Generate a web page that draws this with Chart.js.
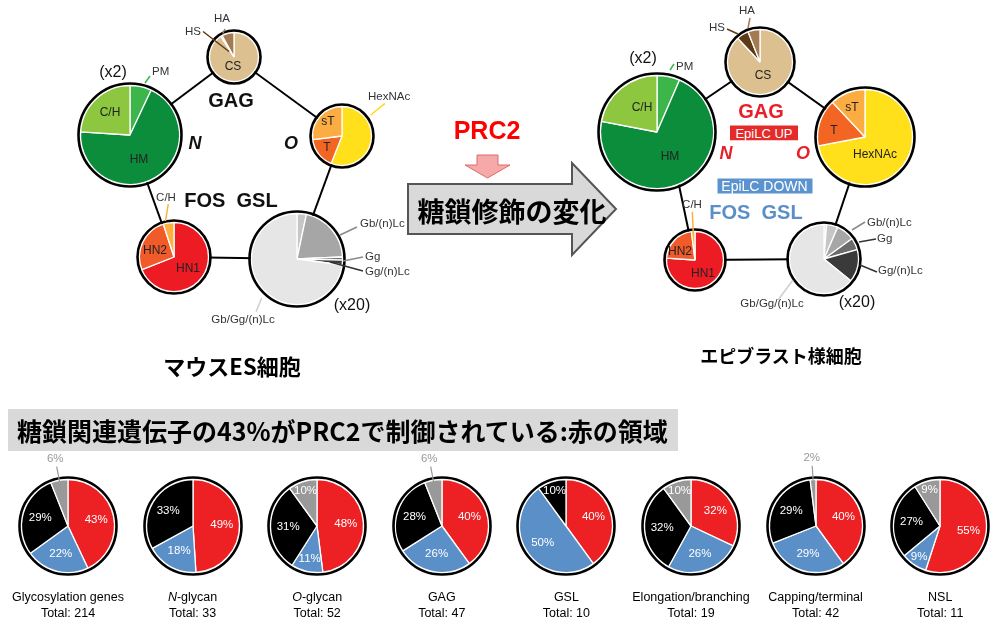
<!DOCTYPE html>
<html><head><meta charset="utf-8">
<script src="https://cdn.jsdelivr.net/npm/chart.js@4.4.1/dist/chart.umd.min.js"></script>
<style>
html,body{margin:0;padding:0;background:#fff;}
#stage{position:relative;width:1000px;height:632px;overflow:hidden;font-family:'Liberation Sans',Arial,sans-serif;color:#222;}
.t{position:absolute;white-space:nowrap;transform:translate(-50%,-50%);line-height:1;}
.l{position:absolute;white-space:nowrap;transform:translate(0,-50%);line-height:1;}
.jp{font-family:'Noto Sans CJK JP','Noto Sans CJK SC',sans-serif;font-weight:bold;color:#000;}
svg{position:absolute;left:0;top:0;}
canvas{position:absolute;}
</style></head><body><div id="stage">
<svg id="back" width="1000" height="632"></svg>
</div>
<script>
// ---------------- data ----------------
// top diagrams: ES cells (left) vs epiblast-like cells (right), shares in %
const gagParts = ['CS', 'HS', 'HA'];
const gagES = [91, 1, 8];
const gagEpi = [88, 6, 6];
const nParts = ['PM', 'HM', 'C/H'];
const nES = [7, 69, 24];
const nEpi = [6.5, 71.5, 22];
const oParts = ['HexNAc', 'T', 'sT'];
const oES = [56, 17, 27];
const oEpi = [72, 16, 12];
const fosParts = ['HN1', 'HN2', 'C/H'];
const fosES = [69, 26, 5];
const fosEpi = [76, 22, 2];
const gslParts = ['Gb/(n)Lc a', 'Gb/(n)Lc b', 'Gb/(n)Lc', 'Gg', 'Gg/(n)Lc', 'Gb/Gg/(n)Lc'];
const gslES = [0, 3.3, 21, 1.1, 1.7, 72.9];
const gslEpi = [1.2, 5.3, 8.5, 5.6, 15.3, 64.1];

// bottom pies
const categories = ['Glycosylation genes', 'N-glycan', 'O-glycan', 'GAG', 'GSL', 'Elongation/branching', 'Capping/terminal', 'NSL'];
const totals = [214, 33, 52, 47, 10, 19, 42, 11];
const redPct = [43, 49, 48, 40, 40, 32, 40, 55];
const bluePct = [22, 18, 11, 26, 50, 26, 29, 9];
const blackPct = [29, 33, 31, 28, 10, 32, 29, 27];
const grayPct = [6, 0, 10, 6, 0, 10, 2, 9];

// ---------------- styles ----------------
const gagColors = ['#dcc08f', '#5e3a17', '#a47a52'];
const nColors = ['#3cb54a', '#0b8d3c', '#8dc63f'];
const oColors = ['#ffe01b', '#f26522', '#fbad42'];
const fosColors = ['#ed1c24', '#f15a29', '#fbb040'];
const gslColors = ['#dedede', '#c6c6c6', '#a6a6a6', '#6b6b6b', '#3a3a3a', '#e6e6e6'];
const bottomColors = ['#ed2024', '#5b8fc8', '#000000', '#999999'];

const stage = document.getElementById('stage');
const NS = 'http://www.w3.org/2000/svg';

const ringPlugin = {
  id: 'ring',
  afterDatasetsDraw(chart, args, opts) {
    const a = chart.getDatasetMeta(0).data[0];
    if (!a) return;
    const ctx = chart.ctx;
    ctx.save();
    ctx.beginPath();
    ctx.arc(a.x, a.y, a.outerRadius + 0.7 + opts.width / 2, 0, Math.PI * 2);
    ctx.lineWidth = opts.width;
    ctx.strokeStyle = '#000';
    ctx.stroke();
    ctx.restore();
  }
};

const pctPlugin = {
  id: 'pct',
  afterDatasetsDraw(chart, args, opts) {
    if (!opts.on) return;
    const meta = chart.getDatasetMeta(0);
    const vals = chart.data.datasets[0].data;
    const ctx = chart.ctx;
    ctx.save();
    ctx.font = '11.5px "Liberation Sans", Arial, sans-serif';
    ctx.textAlign = 'center';
    ctx.textBaseline = 'middle';
    meta.data.forEach((arc, i) => {
      const v = vals[i];
      if (!v) return;
      const mid = (arc.startAngle + arc.endAngle) / 2;
      const R = arc.outerRadius;
      const cx = Math.cos(mid), sy = Math.sin(mid);
      if (v >= 8) {
        const f = v <= 10 ? 0.8 : (v <= 12 ? 0.72 : 0.62);
        ctx.fillStyle = '#fff';
        ctx.fillText(v + '%', arc.x + cx * R * f, arc.y + sy * R * f);
      } else {
        ctx.strokeStyle = '#999';
        ctx.lineWidth = 1.2;
        ctx.beginPath();
        ctx.moveTo(arc.x + cx * R * 0.98, arc.y + sy * R * 0.98);
        ctx.lineTo(arc.x + cx * R * 1.3, arc.y + sy * R * 1.3);
        ctx.stroke();
        ctx.fillStyle = '#999';
        ctx.fillText(v + '%', arc.x + cx * R * 1.46, arc.y + sy * R * 1.46);
      }
    });
    ctx.restore();
  }
};

function makePie(cx, cy, r, labels, values, colors, half, pct) {
  const c = document.createElement('canvas');
  const size = 2 * half;
  c.width = size; c.height = size;
  c.style.left = (cx - half) + 'px';
  c.style.top = (cy - half) + 'px';
  c.style.width = size + 'px';
  c.style.height = size + 'px';
  stage.appendChild(c);
  new Chart(c, {
    type: 'pie',
    data: { labels: labels, datasets: [{ data: values, backgroundColor: colors, borderColor: '#fff', borderWidth: 1.3 }] },
    options: {
      responsive: false, animation: false, devicePixelRatio: 1, events: [],
      radius: r - 3.5,
      layout: { padding: 0 },
      plugins: { legend: { display: false }, tooltip: { enabled: false }, ring: { width: 2.6 }, pct: { on: !!pct } }
    },
    plugins: [ringPlugin, pctPlugin]
  });
}

function svgEl(parent, tag, attrs) {
  const e = document.createElementNS(NS, tag);
  for (const k in attrs) e.setAttribute(k, attrs[k]);
  parent.appendChild(e);
  return e;
}
function T(html, x, y, css, cls) {
  const d = document.createElement('div');
  d.className = cls || 't';
  d.innerHTML = html;
  d.style.left = x + 'px';
  d.style.top = y + 'px';
  d.style.cssText += ';' + (css || 'font-size:11.5px;color:#333;');
  stage.appendChild(d);
  return d;
}

// ---------------- background shapes ----------------
const back = document.getElementById('back');
// pentagon connectors
const L = [[234,57,130,135],[234,57,342,136],[130,135,174,257],[342,136,297,259],[174,257,297,259],
           [760,62,657,132],[760,62,865,137],[675.8,170,690.5,240],[865,137,824,259],[695,260,824,259]];
L.forEach(p => svgEl(back, 'line', {x1:p[0], y1:p[1], x2:p[2], y2:p[3], stroke:'#000', 'stroke-width':2}));
// big arrow
svgEl(back, 'polygon', {points:'408,184 572,184 572,163 616,209 572,255 572,234 408,234', fill:'#d9d9d9', stroke:'#555', 'stroke-width':2});
// pink arrow
svgEl(back, 'polygon', {points:'477,155 498,155 498,165 510,165 487.5,178 465,165 477,165', fill:'#f5a9a9', stroke:'#de6b6b', 'stroke-width':1});
// banner
svgEl(back, 'rect', {x:8, y:409, width:670, height:42, fill:'#d9d9d9'});

// ---------------- top pies ----------------
// left (ES)
makePie(234, 57, 28, gagParts, gagES, gagColors, 32);
makePie(130, 135, 53, nParts, nES, nColors, 57);
makePie(342, 136, 33, oParts, oES, oColors, 37);
makePie(174, 257, 38, fosParts, fosES, fosColors, 42);
makePie(297, 259, 49, gslParts, gslES, gslColors, 53);
// right (EpiLC)
makePie(760, 62, 36, gagParts, gagEpi, gagColors, 40);
makePie(657, 132, 60, nParts, nEpi, nColors, 64);
makePie(865, 137, 51, oParts, oEpi, oColors, 55);
makePie(695, 260, 32, fosParts, fosEpi, fosColors, 36);
makePie(824, 259, 38, gslParts, gslEpi, gslColors, 42);

// ---------------- bottom pies ----------------
categories.forEach((cat, i) => {
  const cx = 68 + i * 124.6;
  makePie(cx, 526, 50, ['red', 'blue', 'black', 'gray'], [redPct[i], bluePct[i], blackPct[i], grayPct[i]], bottomColors, 90, true);
  let name = cat;
  if (cat === 'N-glycan') name = '<i>N</i>-glycan';
  if (cat === 'O-glycan') name = '<i>O</i>-glycan';
  T(name, cx, 597, 'font-size:12.5px;color:#000;');
  T('Total: ' + totals[i], cx, 613, 'font-size:12.5px;color:#000;');
});

// ---------------- leader lines (front) ----------------
const front = document.createElementNS(NS, 'svg');
front.setAttribute('width', 1000); front.setAttribute('height', 632);
stage.appendChild(front);
const leaders = [
  [203,31.5,229,51.5,'#5e3a17'], [225,29,222.7,33.5,'#a47a52'], [145,83,150,76,'#3cb54a'],
  [370.7,115,385,103.3,'#ffd81b'], [168.3,204,165.5,221,'#fbb040'],
  [340,235,357,227,'#8a8a8a'], [343,261,363,257,'#8a8a8a'], [330,262,363,271,'#333'], [261.7,298,256,311.7,'#cfcfcf'],
  [727,29,738,34,'#5e3a17'], [750,18,748,28,'#a47a52'], [670,70,674,64,'#3cb54a'],
  [692.3,211.7,693.3,233.3,'#fbb040'],
  [852,230,865,222,'#8a8a8a'], [859,242,876,239,'#333'], [860,265,877,272,'#333'], [793,280,778,300,'#cfcfcf']
];
leaders.forEach(p => svgEl(front, 'line', {x1:p[0], y1:p[1], x2:p[2], y2:p[3], stroke:p[4], 'stroke-width':1.5}));

// ---------------- texts ----------------
const big16 = 'font-size:16px;color:#111;';
const lab = 'font-size:11.5px;color:#333;';
const lblIn = 'font-size:12px;color:#222;';
// left diagram
T('(x2)', 113, 72, big16);
T('PM', 152, 72, lab, 'l');
T('HS', 193, 32, lab); T('HA', 222, 19, lab); T('CS', 233, 66, lblIn);
T('C/H', 110, 112, lblIn); T('HM', 139, 159, lblIn);
T('GAG', 231, 100, 'font-size:20px;font-weight:bold;color:#111;');
T('N', 195, 143, 'font-size:18px;font-weight:bold;font-style:italic;color:#111;');
T('O', 291, 143, 'font-size:18px;font-weight:bold;font-style:italic;color:#111;');
T('HexNAc', 368, 97, lab, 'l');
T('sT', 328, 121, lblIn); T('T', 327, 147, lblIn);
T('C/H', 166, 198, lab);
T('FOS&nbsp;&nbsp;GSL', 231, 200, 'font-size:20px;font-weight:bold;color:#111;');
T('HN2', 155, 250, lblIn); T('HN1', 188, 268, lblIn);
T('Gb/(n)Lc', 360, 224, lab, 'l'); T('Gg', 365, 257, lab, 'l'); T('Gg/(n)Lc', 365, 272, lab, 'l');
T('Gb/Gg/(n)Lc', 243, 320, lab); T('(x20)', 352, 305, big16);
T('マウスES細胞', 232, 365, 'font-size:22px;', 't jp');
// right diagram
T('(x2)', 643, 58, big16);
T('PM', 676, 67, lab, 'l');
T('HS', 717, 28, lab); T('HA', 747, 11, lab); T('CS', 763, 75, lblIn);
T('C/H', 642, 107, lblIn); T('HM', 670, 156, lblIn);
T('GAG', 761, 111, 'font-size:20px;font-weight:bold;color:#e8202a;');
T('EpiLC UP', 764, 132.5, 'font-size:13px;color:#fff;background:#e52a2a;width:68px;height:15px;line-height:15px;text-align:center;');
T('N', 726, 153, 'font-size:18px;font-weight:bold;font-style:italic;color:#e8202a;');
T('O', 803, 153, 'font-size:18px;font-weight:bold;font-style:italic;color:#e8202a;');
T('EpiLC DOWN', 764.5, 186, 'font-size:14px;color:#fff;background:#5b93cf;width:95px;height:15px;line-height:15px;text-align:center;');
T('FOS&nbsp;&nbsp;GSL', 756, 212, 'font-size:20px;font-weight:bold;color:#5b8fc8;');
T('sT', 852, 107, lblIn); T('T', 834, 130, lblIn); T('HexNAc', 875, 154, lblIn);
T('C/H', 692, 205, lab); T('HN2', 680, 251, lblIn); T('HN1', 703, 273, lblIn);
T('Gb/(n)Lc', 867, 223, lab, 'l'); T('Gg', 877, 239, lab, 'l'); T('Gg/(n)Lc', 878, 271, lab, 'l');
T('Gb/Gg/(n)Lc', 772, 304, lab); T('(x20)', 857, 302, big16);
T('エピブラスト様細胞', 781, 355, 'font-size:18px;', 't jp');
// middle
T('PRC2', 487, 130, 'font-size:25px;font-weight:bold;color:#ff0000;');
T('糖鎖修飾の変化', 512, 210, 'font-size:27px;', 't jp');
// banner
T('糖鎖関連遺伝子の43%がPRC2で制御されている:赤の領域', 17, 430, 'font-size:25px;', 'l jp');
</script>
</body></html>
